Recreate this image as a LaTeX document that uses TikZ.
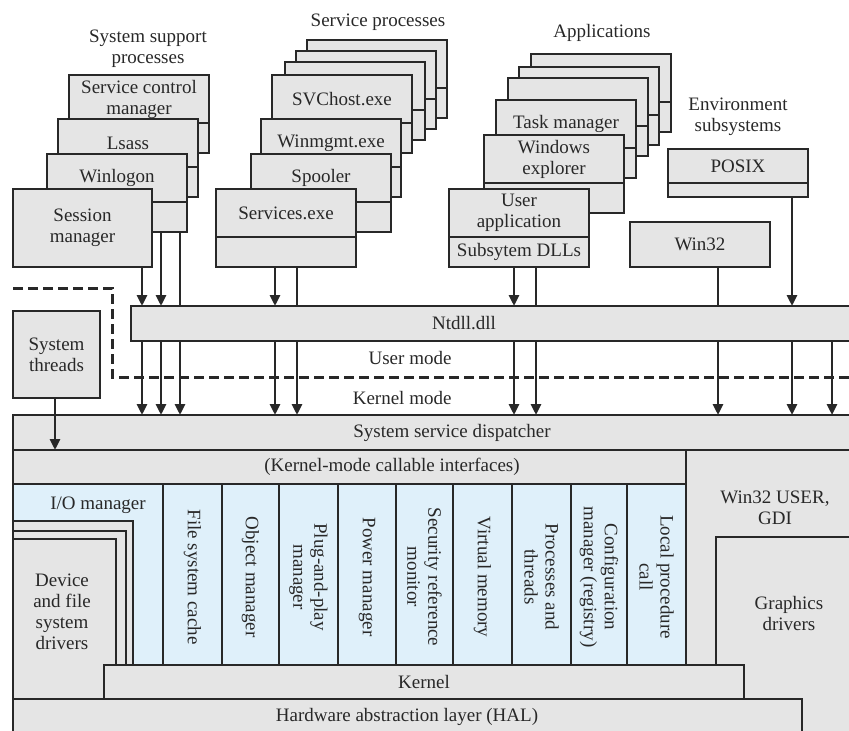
\documentclass[tikz,border=0pt]{standalone}
\usepackage{fontspec}
\setmainfont{Liberation Serif}
\usetikzlibrary{positioning,arrows.meta}
\definecolor{boxgray}{RGB}{229,229,229}
\definecolor{paleblue}{RGB}{223,240,250}
\definecolor{ink}{RGB}{40,40,40}
\tikzset{
  proc/.style={draw=ink, fill=boxgray, line width=1.4pt, anchor=north west, minimum width=140pt, minimum height=48pt, inner sep=0pt, outer sep=0pt, align=center},
  strip/.style={draw=ink, fill=boxgray, line width=1.4pt, minimum width=140pt, minimum height=30pt, inner sep=0pt, outer sep=0pt, align=center},
  band/.style={draw=ink, fill=boxgray, line width=1.4pt, anchor=north west, inner sep=0pt, outer sep=0pt, align=center},
  col/.style={draw=ink, fill=paleblue, line width=1.4pt, anchor=north west, minimum height=181pt, inner sep=0pt, outer sep=0pt},
  vtxt/.style={rotate=-90, align=center},
  call/.style={draw=ink, line width=2.8pt, -{Triangle[length=11pt,width=10pt]}},
  tie/.style={draw=ink, line width=2.8pt},
  modeline/.style={draw=ink, line width=3pt, dash pattern=on 10pt off 5pt},
}
\begin{document}
\begin{tikzpicture}[x=1pt, y=-1pt, every node/.style={font=\fontsize{19}{21}\selectfont, text=ink}]
\useasboundingbox (0,0) rectangle (849,731);
\clip (0,0) rectangle (849,731);

% x positions of the calls
\coordinate (xa) at (142,0);
\coordinate (xb) at (161,0);
\coordinate (xc) at (180,0);
\coordinate (xd) at (275,0);
\coordinate (xe) at (297,0);
\coordinate (xf) at (514,0);
\coordinate (xg) at (536,0);
\coordinate (xh) at (718,0);
\coordinate (xi) at (792,0);
\coordinate (xj) at (832,0);
\coordinate (xs) at (55,0);

% system support processes
\node[align=center] (sysh) at (148,49) {System support\\processes};
\node[proc] (scm) at (69,75) {Service control\\manager};
\node[strip, below=0pt of scm] (scm-s) {};
\node[proc] (lsass) at (58,119) {Lsass};
\node[strip, below=0pt of lsass] (lsass-s) {};
\node[proc] (wlogon) at (47,154) {Winlogon};
\node[strip, below=0pt of wlogon] (wlogon-s) {};
\node[proc, minimum width=139pt, minimum height=78pt] (smgr) at (13,189) {Session\\manager};

% service processes
\node (svch) at (378,22) {Service processes};
\node[proc] (svc1) at (307,40) {};
\node[strip, below=0pt of svc1] (svc1-s) {};
\node[proc] (svc2) at (296,51) {};
\node[strip, below=0pt of svc2] (svc2-s) {};
\node[proc] (svc3) at (285,62) {};
\node[strip, below=0pt of svc3] (svc3-s) {};
\node[proc] (svchost) at (272,75) {SVChost.exe};
\node[strip, below=0pt of svchost] (svchost-s) {};
\node[proc] (wmgmt) at (261,119) {Winmgmt.exe};
\node[strip, below=0pt of wmgmt] (wmgmt-s) {};
\node[proc] (spool) at (251,154) {Spooler};
\node[strip, below=0pt of spool] (spool-s) {};
\node[proc] (svcs) at (216,189) {Services.exe};
\node[strip, below=0pt of svcs] (svcs-s) {};

% applications
\node (apph) at (602,33) {Applications};
\node[proc] (app1) at (531,54) {};
\node[strip, below=0pt of app1] (app1-s) {};
\node[proc] (app2) at (519,67) {};
\node[strip, below=0pt of app2] (app2-s) {};
\node[proc] (app3) at (508,78) {};
\node[strip, below=0pt of app3] (app3-s) {};
\node[proc] (taskm) at (496,100) {Task manager};
\node[strip, below=0pt of taskm] (taskm-s) {};
\node[proc] (wexp) at (484,135) {Windows\\explorer};
\node[strip, below=0pt of wexp] (wexp-s) {};
\node[proc] (uapp) at (449,189) {User\\application};
\node[strip, below=0pt of uapp] (uapp-s) {Subsytem DLLs};

% environment subsystems
\node[align=center] (envh) at (738,117) {Environment\\subsystems};
\node[proc, minimum height=34pt] (posix) at (668,149) {POSIX};
\node[strip, minimum height=14pt, below=0pt of posix] (posix-s) {};
\node[proc, minimum height=45pt] (win32) at (630,222) {Win32};

% calls into ntdll
\draw[call] (smgr.south -| xa) -- (xa |- 306,306);
\draw[call] (wlogon-s.south -| xb) -- (xb |- 306,306);
\draw[tie] (wlogon-s.south -| xc) -- (xc |- 306,306);
\draw[call] (svcs-s.south -| xd) -- (xd |- 306,306);
\draw[tie] (svcs-s.south -| xe) -- (xe |- 306,306);
\draw[call] (uapp-s.south -| xf) -- (xf |- 306,306);
\draw[tie] (uapp-s.south -| xg) -- (xg |- 306,306);
\draw[tie] (win32.south -| xh) -- (xh |- 306,306);
\draw[call] (posix-s.south -| xi) -- (xi |- 306,306);

% user / kernel boundary
\draw[modeline] (13,288) -| (112,377) -- (870,377);
\node[anchor=east] (umode) at (455,358) {User mode};
\node[anchor=east] (kmode) at (455,398) {Kernel mode};

\node[band, minimum width=739pt, minimum height=35pt] (ntdll) at (131,306) {};
\node (ntdll-t) at (464,323) {Ntdll.dll};
\node[band, minimum width=87pt, minimum height=87pt] (sthr) at (13,311) {System\\threads};
\node[band, minimum width=857pt, minimum height=35pt] (ssd) at (13,415) {};
\node (ssd-t) at (452,433) {System service dispatcher};

% calls into the dispatcher
\draw[call] (ntdll.south -| xa) -- (ssd.north -| xa);
\draw[call] (ntdll.south -| xb) -- (ssd.north -| xb);
\draw[call] (ntdll.south -| xc) -- (ssd.north -| xc);
\draw[call] (ntdll.south -| xd) -- (ssd.north -| xd);
\draw[call] (ntdll.south -| xe) -- (ssd.north -| xe);
\draw[call] (ntdll.south -| xf) -- (ssd.north -| xf);
\draw[call] (ntdll.south -| xg) -- (ssd.north -| xg);
\draw[call] (ntdll.south -| xh) -- (ssd.north -| xh);
\draw[call] (ntdll.south -| xi) -- (ssd.north -| xi);
\draw[call] (ntdll.south -| xj) -- (ssd.north -| xj);
\draw[call] (sthr.south -| xs) -- (ssd.south -| xs);

% executive
\node[band, minimum width=200pt, minimum height=310pt] (wuser) at (686,450) {};
\node[align=center] (wuser-t) at (775,508) {Win32 USER,\\GDI};
\node[band, minimum width=170pt, minimum height=230pt] (gdrv) at (716,537) {};
\node[align=center] (gdrv-t) at (789,613) {Graphics\\drivers};
\node[band, minimum width=673pt, minimum height=34pt] (kci) at (13,450) {};
\node (kci-t) at (392,467) {(Kernel-mode callable interfaces)};

\node[col, minimum width=150pt] (iom) at (13,484) {};
\node (iom-t) at (98,505) {I/O manager};
\node[col, minimum width=59pt] (fsc) at (163,484) {};
\node[vtxt] (fsc-t) at (192.5,577) {File system cache};
\node[col, minimum width=57pt] (objm) at (222,484) {};
\node[vtxt] (objm-t) at (250.5,577) {Object manager};
\node[col, minimum width=59pt] (pnp) at (279,484) {};
\node[vtxt] (pnp-t) at (308.5,577) {Plug-and-play\\manager};
\node[col, minimum width=58pt] (powm) at (338,484) {};
\node[vtxt] (powm-t) at (367,577) {Power manager};
\node[col, minimum width=57pt] (srm) at (396,484) {};
\node[vtxt] (srm-t) at (424.5,577) {Security reference\\monitor};
\node[col, minimum width=59pt] (vmem) at (453,484) {};
\node[vtxt] (vmem-t) at (482.5,577) {Virtual memory};
\node[col, minimum width=59pt] (proc) at (512,484) {};
\node[vtxt] (proc-t) at (541.5,577) {Processes and\\threads};
\node[col, minimum width=56pt] (cfgm) at (571,484) {};
\node[vtxt] (cfgm-t) at (599,577) {Configuration\\manager (registry)};
\node[col, minimum width=59pt] (lpc) at (627,484) {};
\node[vtxt] (lpc-t) at (656.5,577) {Local procedure\\call};

\node[band, minimum width=120pt, minimum height=178pt] (dev3) at (13,521) {};
\node[band, minimum width=113pt, minimum height=168pt] (dev2) at (13,531) {};
\node[band, minimum width=103pt, minimum height=160pt] (dev1) at (13,539) {};
\node[align=center] (dev-t) at (62,612) {Device\\and file\\system\\drivers};

\node[band, minimum width=640pt, minimum height=34pt] (kern) at (104,665) {Kernel};
\node[band, minimum width=789pt, minimum height=60pt] (hal) at (13,699) {};
\node (hal-t) at (407,717) {Hardware abstraction layer (HAL)};
\end{tikzpicture}
\end{document}
